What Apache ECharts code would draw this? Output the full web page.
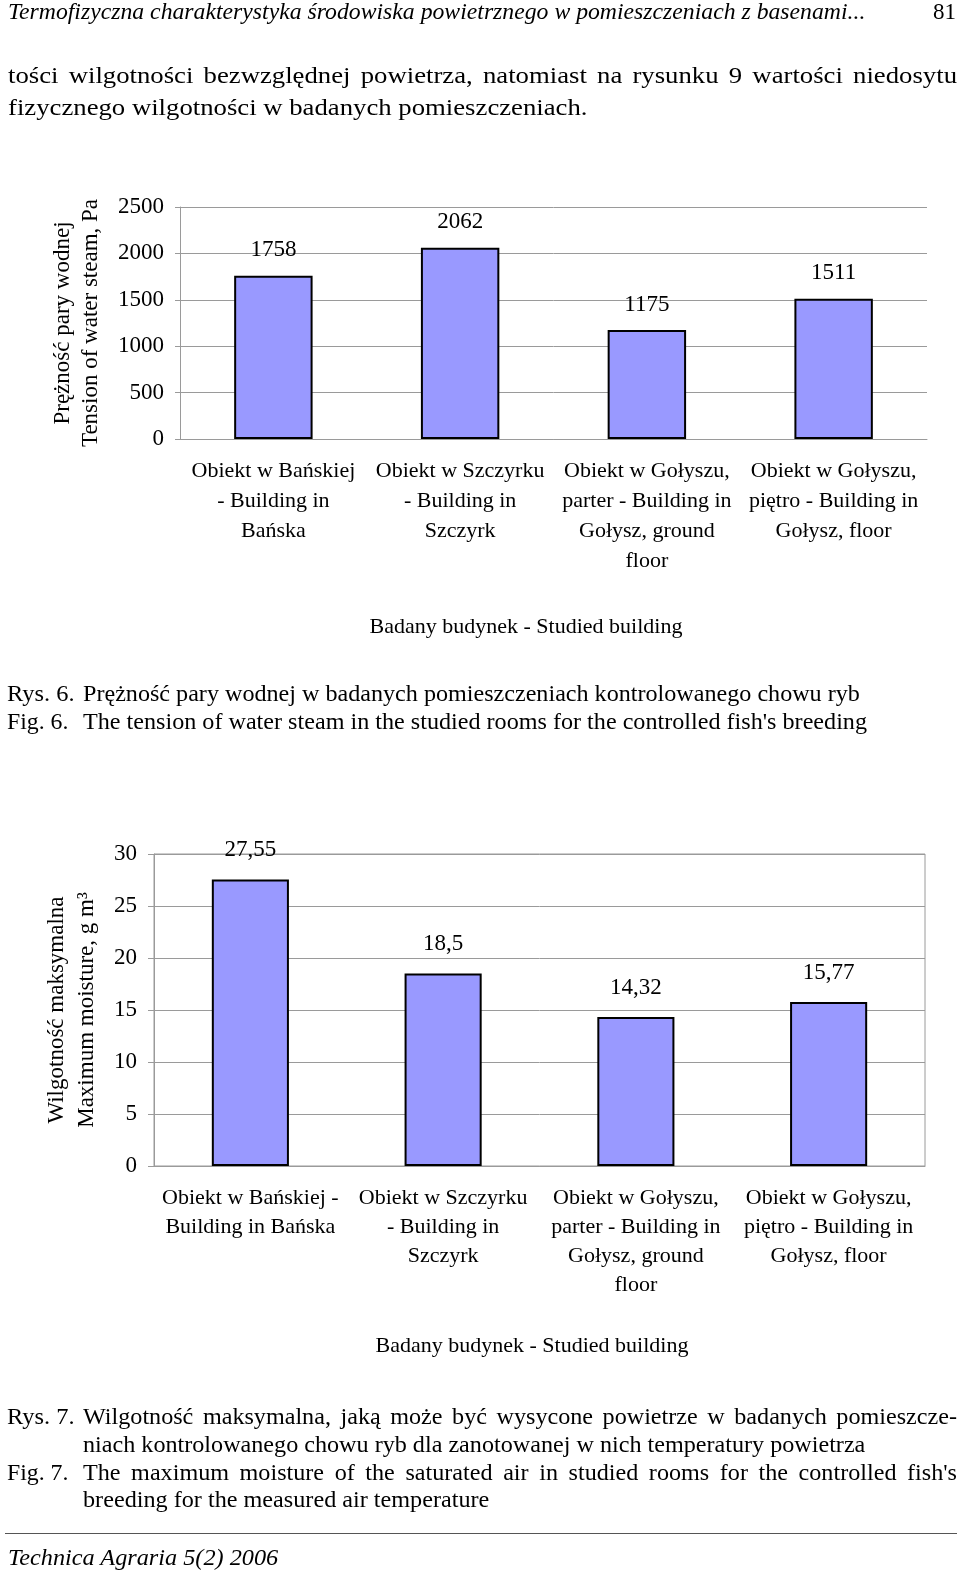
<!DOCTYPE html>
<html>
<head>
<meta charset="utf-8">
<script src="https://cdn.jsdelivr.net/npm/echarts@6/dist/echarts.min.js"></script>
<style>
  html, body { margin: 0; padding: 0; background: #fff; overflow: hidden; }
  #page { position: relative; width: 960px; height: 1574px; background: #fff; overflow: hidden; }
  #chart { position: absolute; left: 0; top: 0; width: 960px; height: 1574px; }
  .ln { position: absolute; white-space: nowrap; color: #000; font-family: "Liberation Serif", "Times New Roman", serif; transform-origin: 0 50%; }
</style>
</head>
<body>
<div id="page">
  <div id="chart"></div>
</div>
<script>
// ---------- data ----------
const categories1 = [
  "Obiekt w Bańskiej\n- Building in\nBańska",
  "Obiekt w Szczyrku\n- Building in\nSzczyrk",
  "Obiekt w Gołyszu,\nparter - Building in\nGołysz, ground\nfloor",
  "Obiekt w Gołyszu,\npiętro - Building in\nGołysz, floor"
];
const values1 = [1758, 2062, 1175, 1511];
const yTicks1 = { min: 0, max: 2500, interval: 500 };

const categories2 = [
  "Obiekt w Bańskiej -\nBuilding in Bańska",
  "Obiekt w Szczyrku\n- Building in\nSzczyrk",
  "Obiekt w Gołyszu,\nparter - Building in\nGołysz, ground\nfloor",
  "Obiekt w Gołyszu,\npiętro - Building in\nGołysz, floor"
];
const values2 = [27.55, 18.5, 14.32, 15.77];
const yTicks2 = { min: 0, max: 30, interval: 5 };

const xName = "Badany budynek - Studied building";
const yName1 = "Prężność pary wodnej\nTension of water steam, Pa";
const yName2 = "Wilgotność maksymalna\nMaximum moisture, g m³";

// ---------- chart ----------
const FF = '"Liberation Serif", "Times New Roman", serif';
const GRAY = '#9a9a9a';
const chart = echarts.init(document.getElementById('chart'), null, { renderer: 'canvas', width: 960, height: 1574 });

function txt(size, extra) {
  return Object.assign({ fontFamily: FF, fontSize: size, color: '#000' }, extra || {});
}
function plain(v) { return String(v); }

const option = {
  animation: false,
  backgroundColor: 'transparent',
  grid: [
    { left: 180, top: 207, width: 747, height: 232 },
    { left: 154, top: 854, width: 771, height: 312, show: true, borderColor: GRAY, borderWidth: 1 }
  ],
  xAxis: [
    {
      type: 'category', gridIndex: 0, data: categories1,
      axisLine: { lineStyle: { color: GRAY } },
      axisTick: { length: 6, lineStyle: { color: GRAY } },
      axisLabel: Object.assign({ interval: 0, margin: 17, lineHeight: 30 }, txt(22)),
      name: xName, nameLocation: 'middle', nameGap: 177,
      nameTextStyle: txt(22, { padding: [0, 55, 0, 0] })
    },
    {
      type: 'category', gridIndex: 1, data: categories2,
      axisLine: { lineStyle: { color: GRAY } },
      axisTick: { length: 6, lineStyle: { color: GRAY } },
      axisLabel: Object.assign({ interval: 0, margin: 18, lineHeight: 29 }, txt(22)),
      name: xName, nameLocation: 'middle', nameGap: 169,
      nameTextStyle: txt(22, { padding: [0, 15, 0, 0] })
    }
  ],
  yAxis: [
    {
      type: 'value', gridIndex: 0, min: yTicks1.min, max: yTicks1.max, interval: yTicks1.interval,
      axisLine: { show: true, lineStyle: { color: GRAY } },
      axisTick: { show: true, length: 5, lineStyle: { color: GRAY } },
      splitLine: { lineStyle: { color: GRAY } },
      axisLabel: Object.assign({ margin: 16, formatter: plain }, txt(23)),
      name: yName1, nameLocation: 'middle', nameGap: 75, nameRotate: 90,
      nameTextStyle: txt(23, { lineHeight: 28 })
    },
    {
      type: 'value', gridIndex: 1, min: yTicks2.min, max: yTicks2.max, interval: yTicks2.interval,
      axisLine: { show: true, lineStyle: { color: GRAY } },
      axisTick: { show: true, length: 6, lineStyle: { color: GRAY } },
      splitLine: { lineStyle: { color: GRAY } },
      axisLabel: Object.assign({ margin: 17, formatter: plain }, txt(23)),
      name: yName2, nameLocation: 'middle', nameGap: 52, nameRotate: 90,
      nameTextStyle: txt(23, { lineHeight: 30 })
    }
  ],
  series: [
    {
      type: 'bar', xAxisIndex: 0, yAxisIndex: 0, data: values1, barWidth: '42%',
      itemStyle: { color: '#9999ff', borderColor: '#000', borderWidth: 2 },
      label: Object.assign({ show: true, position: 'top', distance: 14 }, txt(23))
    },
    {
      type: 'bar', xAxisIndex: 1, yAxisIndex: 1, data: values2, barWidth: '40%',
      itemStyle: { color: '#9999ff', borderColor: '#000', borderWidth: 2 },
      label: Object.assign({
        show: true, position: 'top', distance: 18,
        formatter: function (p) { return String(p.value).replace('.', ','); }
      }, txt(23))
    }
  ]
};
chart.setOption(option);

// ---------- page text ----------
const page = document.getElementById('page');
function makeLine(t, cy, fs, italic) {
  const d = document.createElement('div');
  d.className = 'ln';
  const lh = Math.round(fs * 1.2);
  d.style.top = (cy - lh / 2) + 'px';
  d.style.fontSize = fs + 'px';
  d.style.lineHeight = lh + 'px';
  if (italic) d.style.fontStyle = 'italic';
  const s = document.createElement('span');
  s.textContent = t;
  d.appendChild(s);
  page.appendChild(d);
  return { d: d, w: s.offsetWidth };
}
function fitLine(t, x, cy, fs, target, italic) {
  const r = makeLine(t, cy, fs, italic);
  r.d.style.left = x + 'px';
  if (target) r.d.style.transform = 'scaleX(' + (target / r.w) + ')';
  return target ? target / r.w : 1;
}
function justLine(t, x, cy, fs, target, sc) {
  const r = makeLine(t, cy, fs, false);
  r.d.style.left = x + 'px';
  const inner = target / sc;
  if (r.w < inner) {
    r.d.style.width = inner + 'px';
    r.d.style.whiteSpace = 'normal';
    r.d.style.textAlign = 'justify';
    r.d.style.textAlignLast = 'justify';
    r.d.style.transform = 'scaleX(' + sc + ')';
  } else {
    r.d.style.transform = 'scaleX(' + (target / r.w) + ')';
  }
}
function rightLine(t, xr, cy, fs) {
  const r = makeLine(t, cy, fs, false);
  r.d.style.left = (xr - r.w) + 'px';
}

fitLine("Termofizyczna charakterystyka środowiska powietrznego w pomieszczeniach z basenami...", 8, 12, 23, 857, true);
rightLine("81", 956, 12, 23);
const sBody = fitLine("fizycznego wilgotności w badanych pomieszczeniach.", 8, 107.5, 24, 579);
justLine("tości wilgotności bezwzględnej powietrza, natomiast na rysunku 9 wartości niedosytu", 8, 75.5, 24, 949, sBody);

fitLine("Rys. 6.", 7, 694, 23, 68);
fitLine("Prężność pary wodnej w badanych pomieszczeniach kontrolowanego chowu ryb", 83, 694, 23, 777);
fitLine("Fig. 6.", 7, 722, 23, 61);
fitLine("The tension of water steam in the studied rooms for the controlled fish's breeding", 83, 722, 23, 784);

fitLine("Rys. 7.", 7, 1417, 23, 68);
const sCap = fitLine("niach kontrolowanego chowu ryb dla zanotowanej w nich temperatury powietrza", 83, 1445, 23, 782);
justLine("Wilgotność maksymalna, jaką może być wysycone powietrze w badanych pomieszcze-", 83, 1417, 23, 874, sCap);
fitLine("Fig. 7.", 7, 1473, 23, 61);
justLine("The maximum moisture of the saturated air in studied rooms for the controlled fish's", 83, 1473, 23, 874, sCap);
fitLine("breeding for the measured air temperature", 83, 1500, 23, 406);

const rule = document.createElement('div');
rule.style.cssText = 'position:absolute;left:5px;top:1533px;width:952px;height:1px;background:#555;';
page.appendChild(rule);
fitLine("Technica Agraria 5(2) 2006", 8, 1558, 23, 270, true);
</script>
</body>
</html>
